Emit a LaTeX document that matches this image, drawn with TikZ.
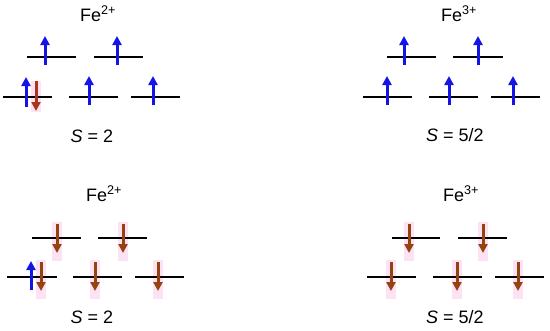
\documentclass[tikz,border=0pt]{standalone}
\usepackage{fontspec}
\setmainfont{Liberation Sans}
\usetikzlibrary{arrows.meta}
\definecolor{spinup}{HTML}{1414E6}
\definecolor{spindn}{HTML}{94420F}
\definecolor{spindnr}{HTML}{A8361A}
\definecolor{glow}{HTML}{FCE2F4}
\tikzset{
  level/.style={line width=1.8pt, black},
  uparrow/.style={line width=3pt, spinup, -{Triangle[width=9pt,length=9pt]}},
  dnarrow/.style={line width=3pt, spindn, -{Triangle[width=9pt,length=9pt]}},
  dnarrowr/.style={line width=3pt, spindnr, -{Triangle[width=9pt,length=9pt]}},
  glowbox/.style={fill=glow, draw=none},
  lab/.style={font=\fontsize{18}{21}\selectfont, inner sep=0pt, anchor=base}
}
\newcommand\lvl[3]{\draw[level] (#1,#3) -- (#2,#3);}
\newcommand\upa[2]{\draw[uparrow] (#1,{#2+8}) -- (#1,{#2-21});}
\begin{document}
\begin{tikzpicture}[x=1pt,y=-1pt]
\useasboundingbox[fill=white] (0,0) rectangle (550,330);
% ---------- top left: Fe2+ high spin ----------
\node[lab] (tl) at (98,21) {Fe\textsuperscript{2+}};
\lvl{27}{76}{57}
\lvl{94}{143}{57}
\upa{45}{57}
\upa{117}{57}
\fill[glowbox] (31,81) rectangle (41,112);
\lvl{3}{52}{97}
\lvl{69}{118}{97}
\lvl{131}{180}{97}
\draw[uparrow] (26,107) -- (26,77);
\draw[dnarrowr] (36,81) -- (36,111);
\upa{89}{97}
\upa{153}{97}
\node[lab] (stl) at (92,142) {\textit{S} = 2};
% ---------- top right: Fe3+ ----------
\node[lab] (tr) at (459,21) {Fe\textsuperscript{3+}};
\lvl{387}{436}{57}
\lvl{453}{503}{57}
\upa{404}{57}
\upa{478}{57}
\lvl{363}{412}{97}
\lvl{429}{478}{97}
\lvl{491}{540}{97}
\upa{387}{97}
\upa{449}{97}
\upa{513}{97}
\node[lab] (str) at (455,141) {\textit{S} = 5/2};
% ---------- bottom left: Fe2+ ----------
\node[lab] (bl) at (104,201) {Fe\textsuperscript{2+}};
\fill[glowbox] (52,222) rectangle (62,261);
\fill[glowbox] (118,222) rectangle (128,261);
\fill[glowbox] (36,260) rectangle (46,299);
\fill[glowbox] (90,260) rectangle (100,299);
\fill[glowbox] (153,260) rectangle (163,299);
\lvl{32}{81}{238}
\lvl{98}{147}{238}
\lvl{7}{57}{277}
\lvl{73}{122}{277}
\lvl{135}{184}{277}
\draw[dnarrow] (57,224) -- (57,253);
\draw[dnarrow] (123,224) -- (123,253);
\draw[uparrow] (31,290) -- (31,261);
\draw[dnarrow] (41,262) -- (41,291);
\draw[dnarrow] (95,262) -- (95,291);
\draw[dnarrow] (158,262) -- (158,291);
\node[lab] (sbl) at (92,323) {\textit{S} = 2};
% ---------- bottom right: Fe3+ ----------
\node[lab] (br) at (461,201) {Fe\textsuperscript{3+}};
\fill[glowbox] (404,222) rectangle (414,261);
\fill[glowbox] (478,222) rectangle (488,261);
\fill[glowbox] (386,260) rectangle (396,299);
\fill[glowbox] (452,260) rectangle (462,299);
\fill[glowbox] (513,260) rectangle (523,299);
\lvl{392}{440}{238}
\lvl{458}{507}{238}
\lvl{367}{416}{277}
\lvl{433}{482}{277}
\lvl{495}{544}{277}
\draw[dnarrow] (409,224) -- (409,253);
\draw[dnarrow] (483,224) -- (483,253);
\draw[dnarrow] (391,262) -- (391,291);
\draw[dnarrow] (457,262) -- (457,291);
\draw[dnarrow] (518,262) -- (518,291);
\node[lab] (sbr) at (455,323) {\textit{S} = 5/2};
\end{tikzpicture}
\end{document}
